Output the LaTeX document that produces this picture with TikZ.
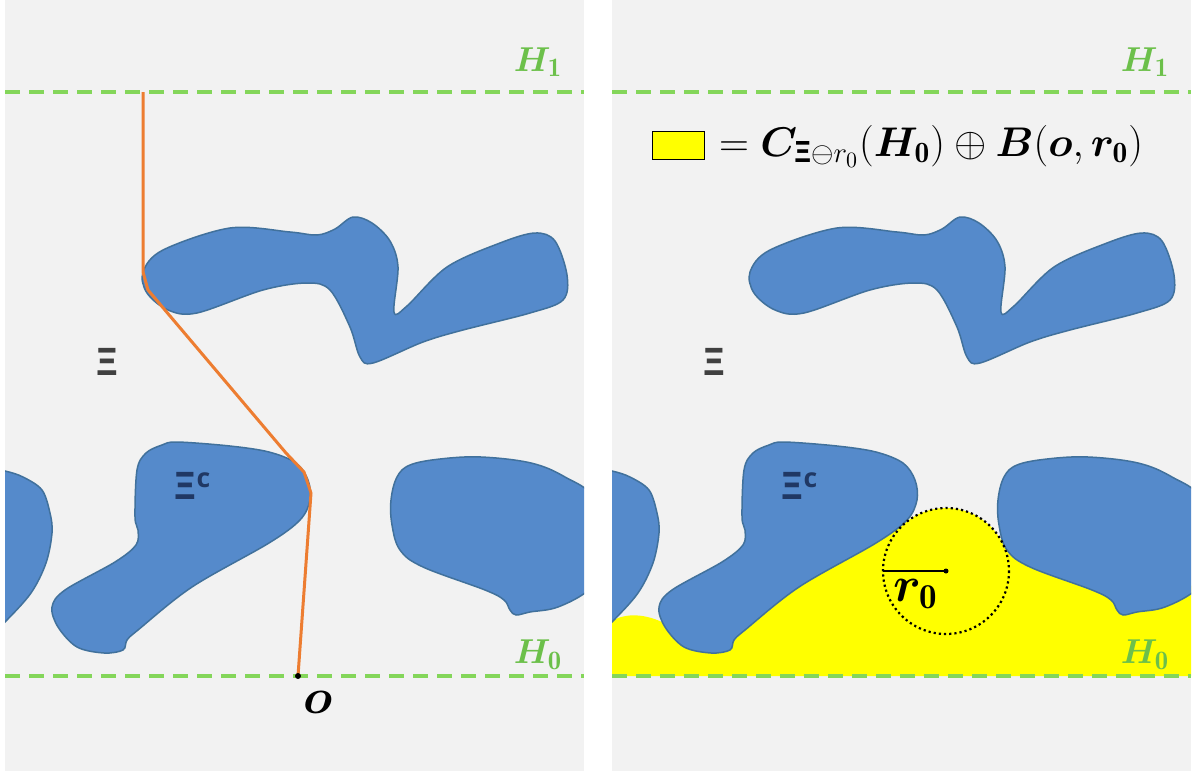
\documentclass[tikz,border=0pt]{standalone}
\usepackage{amsmath}
\usepackage{amssymb}
\usepackage{bm}
\usepackage{fontspec}
\newfontfamily\xifont{Open Sans}
\definecolor{bggray}{HTML}{F2F2F2}
\definecolor{blobblue}{HTML}{558ACB}
\definecolor{blobedge}{HTML}{41719C}
\definecolor{hgreen}{HTML}{84D65A}
\definecolor{hlabgreen}{HTML}{6CC04A}
\definecolor{pathorange}{HTML}{ED7D31}
\definecolor{xigray}{HTML}{404040}
\definecolor{xinavy}{HTML}{203864}
\definecolor{setyellow}{HTML}{FFFF00}

\tikzset{
  blob/.style={fill=blobblue,draw=blobedge,line width=0.75pt},
  hline/.style={hgreen,line width=1.8pt,dash pattern=on 7.5pt off 4.5pt},
  hlab/.style={hlabgreen,font=\fontsize{19}{22}\selectfont},
  xilab/.style={font=\xifont\bfseries\fontsize{19}{22}\selectfont},
}

\begin{document}
\begin{tikzpicture}[x=0.5pt,y=-0.5pt]
  \useasboundingbox (0,0) rectangle (1194,771);
  \fill[white] (0,0) rectangle (1194,771);

  % ===== PANELS =====
  \foreach \dx in {0,607}
    \fill[bggray] (5+\dx,0) rectangle (584+\dx,771);

  % ===== DILATED SET (right) =====
  \begin{scope}
    \clip (612,0) rectangle (1191,771);
    \fill[setyellow] (612,676) -- (612,621)
      .. controls (625,613) and (645,613) .. (666,624)
      -- (760,560) -- (903,521) -- (930,540) -- (1000,540)
      -- (1010,545) -- (1060,560) -- (1130,590) -- (1200,585)
      -- (1200,676) -- cycle;
    \fill[setyellow] (946,571) circle[radius=63];
  \end{scope}

  % ===== OBSTACLES AND LEVELS =====
  \foreach \dx in {0,607}{
    \begin{scope}[shift={(\dx,0)}]
      \clip (5,0) rectangle (584,771);
      \draw[blob] plot[smooth cycle,tension=0.55] coordinates {
        (143,272) (163,250) (230,228) (290,232) (317,235) (335,229)
        (353,217) (372,223) (390,241) (398,267) (394,312) (407,306)
        (447,267) (500,243) (535,233) (555,241) (567,275) (563,300)
        (530,313) (463,330) (423,342) (373,363) (360,357) (350,327)
        (330,290) (307,283) (263,290) (197,313) (168,310) (147,293)};
      \draw[blob] plot[smooth cycle,tension=0.55] coordinates {
        (162,445) (177,442) (230,446) (269,452) (296,463) (308,480)
        (310,500) (300,520) (269,543) (192,587) (138,630) (127,640)
        (123,650) (104,653) (77,647) (58,627) (52,607) (65,590)
        (115,562) (136,545) (138,530) (135,517) (137,470) (146,453)};
      \draw[blob] plot[smooth cycle,tension=0.55] coordinates {
        (-15,468) (5,471) (23,477) (42,490) (50,513) (52,533)
        (46,563) (31,593) (5,622) (-15,640) (-40,550)};
      \draw[blob] plot[smooth cycle,tension=0.6] coordinates {
        (391,500) (397,477) (410,465) (440,459) (481,457) (531,463)
        (565,477) (595,500) (610,560) (590,589) (558,607) (530,612)
        (516,615) (510,610) (504,600) (485,590) (423,567) (400,550)
        (392,525)};
      \draw[hline] (5,92) -- (584,92);
      \draw[hline] (5,676) -- (584,676);
    \end{scope}
    \node[hlab] (hone\dx) at (538+\dx,62) {$\bm{H}_{\mathbf{1}}$};
    \node[hlab] (hzero\dx) at (538+\dx,655) {$\bm{H}_{\mathbf{0}}$};
    \node[xilab,xigray] (xi\dx) at (107+\dx,362) {Ξ};
    \node[xilab,xinavy] (xic\dx) at (193+\dx,486) {Ξ\textsuperscript{c}};
  }

  % ===== PATH (left) =====
  \coordinate (top) at (143,92);
  \coordinate (k1) at (143,272);
  \coordinate (k2) at (148,290);
  \coordinate (k3) at (286,453);
  \coordinate (k4) at (304,472);
  \coordinate (k5) at (311,493);
  \coordinate (o) at (298,676);
  \draw[pathorange,line width=1.5pt,line join=round]
        (top) -- (k1) -- (k2) -- (k3) -- (k4) -- (k5) -- (o);
  \fill[black] (o) circle[radius=3];
  \node[font=\fontsize{25}{28}\selectfont] (olab) at (318,702) {$\bm{o}$};

  % ===== BALL (right) =====
  \coordinate (rc) at (946,571);
  \coordinate (rl) at (883,571);
  \draw[line width=1.1pt,dash pattern=on 1.1pt off 1.5pt] (rc) circle[radius=63];
  \draw[line width=1pt] (rl) -- (rc);
  \fill (rc) circle[radius=2.5];
  \node[font=\fontsize{25}{28}\selectfont] (rlab) at (916,594) {$\bm{r}_{\mathbf{0}}$};

  % ===== LEGEND =====
  \node[draw=black,fill=setyellow,line width=0.9pt,minimum width=26pt,
        minimum height=14pt,inner sep=0pt] (key) at (678.5,145.5) {};
  \node[anchor=west,font=\fontsize{21}{24}\selectfont] (keytext) at (712,146)
        {$= \bm{C}_{\text{\xifont\bfseries Ξ}\ominus r_0}(\bm{H}_{\mathbf{0}})
          \oplus \bm{B}(\bm{o},\bm{r}_{\mathbf{0}})$};

\end{tikzpicture}
\end{document}
